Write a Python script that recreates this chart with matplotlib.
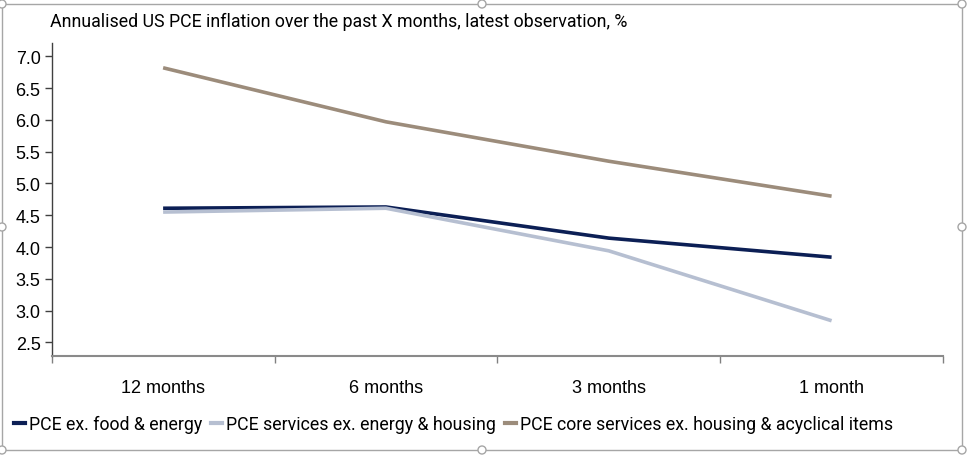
import matplotlib
matplotlib.use("Agg")
import matplotlib.pyplot as plt
from matplotlib.patches import Rectangle, Circle
from matplotlib.lines import Line2D

categories = ["12 months", "6 months", "3 months", "1 month"]
core_ex_fe = [4.61, 4.63, 4.14, 3.84]
services_ex_eh = [4.55, 4.61, 3.94, 2.84]
core_services_ex_ha = [6.82, 5.97, 5.35, 4.80]
series_names = ["PCE ex. food & energy", "PCE services ex. energy & housing",
                "PCE core services ex. housing & acyclical items"]
yticks = [2.5, 3.0, 3.5, 4.0, 4.5, 5.0, 5.5, 6.0, 6.5, 7.0]
title = "Annualised US PCE inflation over the past X months, latest observation, %"

colors = ["#0c1f55", "#b6bfd1", "#9c8c7b"]

W, H = 967, 456
fig = plt.figure(figsize=(W / 100, H / 100), dpi=100)
ax = fig.add_axes([51.7 / W, 1 - 356.7 / H, (943 - 51.7) / W, (356.7 - 44) / H])

x = list(range(len(categories)))
for vals, c, name in zip([core_ex_fe, services_ex_eh, core_services_ex_ha], colors, series_names):
    ax.plot(x, vals, color=c, lw=2.6, solid_capstyle="butt", label=name)

ax.set_xlim(-0.5, len(categories) - 0.5)
ax.set_ylim(2.29, 7.21)
ax.set_yticks(yticks)
ax.set_yticklabels([f"{v:.1f}" for v in yticks], fontfamily="Liberation Sans", fontsize=13)
ax.set_xticks(x)
ax.set_xticklabels(categories, fontfamily="Liberation Sans", fontsize=13)
ax.set_xticks([i - 0.5 for i in range(len(categories) + 1)], minor=True)
ax.tick_params(axis="x", which="major", length=0, pad=17)
ax.tick_params(axis="x", which="minor", length=5, color="#808080", width=1)
ax.tick_params(axis="y", length=5, width=1, color="#404040", pad=3)
for s in ["top", "right"]:
    ax.spines[s].set_visible(False)
ax.spines["left"].set_color("#404040")
ax.spines["left"].set_linewidth(1)
ax.spines["bottom"].set_color("#8a8a8a")
ax.spines["bottom"].set_linewidth(1.5)

fig.text(50 / W, 1 - 22 / H, title, fontfamily="Roboto", fontsize=12.75, va="center", ha="left")

handles = [Line2D([0], [0], color=c, lw=3) for c in colors]
leg = fig.legend(handles, series_names, loc="center left", bbox_to_anchor=(-2 / W, 1 - 425 / H),
                 ncol=3, frameon=False, handlelength=0.6, handletextpad=0.25, columnspacing=0.5,
                 prop={"family": "Roboto", "size": 12.75})

# chart frame with selection handles
fig.add_artist(Rectangle((2 / W, 1 - 451 / H), 960 / W, 446 / H, transform=fig.transFigure,
                         fill=False, ec="#a6a6a6", lw=1))
for (px, py) in [(2, 5), (482, 5), (962, 5), (2, 228), (962, 228), (2, 451), (482, 451), (962, 451)]:
    fig.add_artist(Circle((px, H - py), 4, transform=None, fc="white", ec="#a6a6a6", lw=1))

fig.savefig("out.png", dpi=100)
